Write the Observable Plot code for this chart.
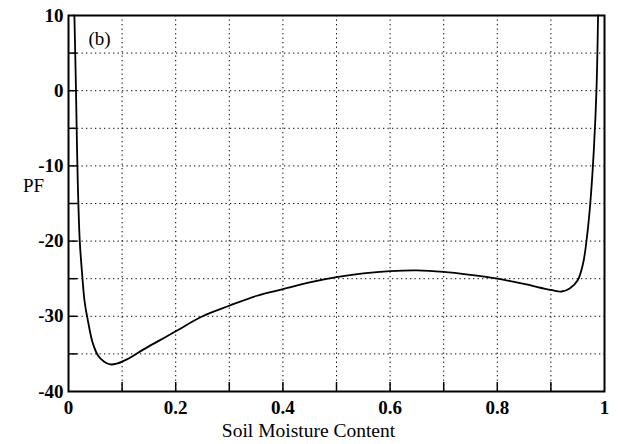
<!DOCTYPE html>
<html>
<head>
<meta charset="utf-8">
<script src="https://cdn.jsdelivr.net/npm/d3@7"></script>
<script src="https://cdn.jsdelivr.net/npm/@observablehq/plot@0.6"></script>
<style>
  html, body { margin: 0; padding: 0; background: #fff; }
</style>
</head>
<body>
<div id="chart"></div>
<script>
// Soil moisture content (x) and PF (y)
const moisture = [0.011, 0.014, 0.016, 0.018, 0.021, 0.025, 0.030, 0.036, 0.045, 0.055, 0.066, 0.078, 0.090, 0.110, 0.140, 0.170, 0.200, 0.250, 0.300, 0.350, 0.400, 0.450, 0.500, 0.550, 0.600, 0.650, 0.700, 0.750, 0.800, 0.850, 0.900, 0.920, 0.935, 0.950, 0.960, 0.968, 0.974, 0.980, 0.985, 0.988];
const pf =       [10, 0, -8, -14, -20, -24, -28, -30.5, -33.5, -35.2, -36.0, -36.4, -36.3, -35.7, -34.4, -33.2, -32.0, -30.0, -28.6, -27.3, -26.4, -25.5, -24.8, -24.3, -24.0, -23.9, -24.1, -24.5, -25.0, -25.7, -26.5, -26.7, -26.3, -25.2, -23.0, -19.0, -14.5, -8.0, 0, 10];

const xTickLabels = [0, 0.2, 0.4, 0.6, 0.8, 1];
const yTickLabels = [10, 0, -10, -20, -30, -40];
const xGrid = [0.1, 0.2, 0.3, 0.4, 0.5, 0.6, 0.7, 0.8, 0.9];
const yGrid = [5, 0, -5, -10, -15, -20, -25, -30, -35];

const data = moisture.map((m, i) => ({m, pf: pf[i]}));

const W = 621, H = 444;
const mL = 68, mR = 17, mT = 15, mB = 53;
const serif = "'Liberation Serif', 'DejaVu Serif', serif";

const chart = Plot.plot({
  width: W,
  height: H,
  marginLeft: mL,
  marginRight: mR,
  marginTop: mT,
  marginBottom: mB,
  style: {fontFamily: serif, fontSize: "19px", color: "black", background: "white"},
  x: {domain: [0, 1]},
  y: {domain: [-40, 10]},
  marks: [
    Plot.gridX(xGrid, {stroke: "black", strokeOpacity: 1, strokeWidth: 1, strokeDasharray: "1.3,3.2"}),
    Plot.gridY(yGrid, {stroke: "black", strokeOpacity: 1, strokeWidth: 1, strokeDasharray: "1.3,3.2"}),
    Plot.ruleX(xGrid, {y1: -40, y2: -38.8, stroke: "black", strokeWidth: 1.5}),
    Plot.ruleY(yGrid, {x1: 0, x2: 0.017, stroke: "black", strokeWidth: 1.5}),
    Plot.line(data, {x: "m", y: "pf", curve: "catmull-rom", stroke: "black", strokeWidth: 1.8}),
    Plot.frame({stroke: "black", strokeWidth: 2}),
    Plot.axisX({ticks: xTickLabels, tickSize: 0, tickPadding: 9, tickFormat: d => String(d), label: null, fontWeight: "bold", fontFamily: serif, fontSize: 19, fill: "black"}),
    Plot.axisY({ticks: yTickLabels, tickSize: 0, tickPadding: 5, tickFormat: d => String(d), label: null, fontWeight: "bold", fontFamily: serif, fontSize: 19, fill: "black"}),
    Plot.text(["Soil Moisture Content"], {frameAnchor: "bottom", dx: -28, dy: 45, fontSize: 19.5, fontFamily: serif, fill: "black"}),
    Plot.text(["PF"], {frameAnchor: "left", textAnchor: "middle", dx: -35, dy: -18, fontSize: 19, fontFamily: serif, fill: "black"}),
    Plot.text(["(b)"], {frameAnchor: "top-left", dx: 20, dy: 16, fontSize: 19, fontFamily: serif, fill: "black"})
  ]
});

document.getElementById("chart").appendChild(chart);
</script>
</body>
</html>
